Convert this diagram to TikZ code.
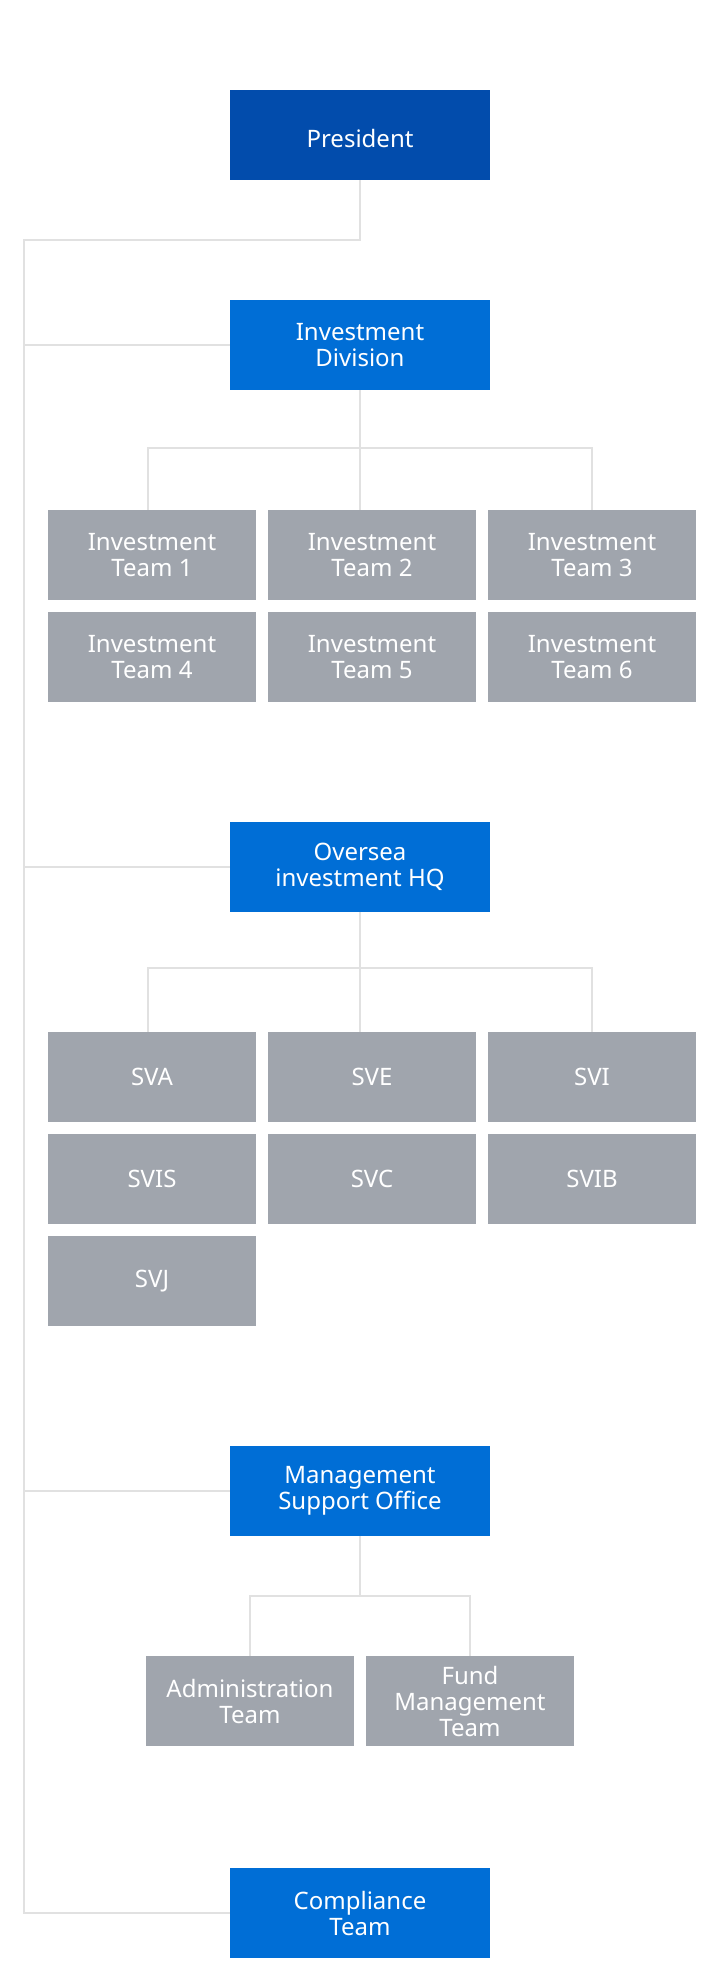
\documentclass[tikz,border=0pt]{standalone}
\usepackage{fontspec}
\setmainfont{Noto Sans}
\usetikzlibrary{positioning}

\definecolor{presblue}{HTML}{024CAC}
\definecolor{unitblue}{HTML}{006ED6}
\definecolor{teamgray}{HTML}{A0A5AD}
\definecolor{linegray}{HTML}{E1E1E1}

\begin{document}
\begin{tikzpicture}[x=1pt, y=-1pt,
  box/.style={minimum width=260pt, minimum height=90pt, inner sep=0pt, text=white, align=center, font=\fontsize{24}{26}\selectfont},
  head/.style={box, fill=unitblue},
  team/.style={box, fill=teamgray, minimum width=208pt},
  link/.style={draw=linegray, line width=2pt}]

\useasboundingbox[fill=white] (0,0) rectangle (720,1980);

\coordinate (spine) at (24,240);

% heads
\node[head, fill=presblue, text height=25pt, text depth=0pt] (pres) at (360,135) {President};
\node[head] (invdiv) at (360,345) {Investment\\Division};
\node[head] (hq) at (360,867) {Oversea\\investment HQ};
\node[head] (mso) at (360,1491) {Management\\Support Office};
\node[head] (comp) at (360,1913) {Compliance\\Team};

% investment teams
\foreach \n/\x/\y in {1/152/555, 2/372/555, 3/592/555, 4/152/657, 5/372/657, 6/592/657}
  \node[team] (it\n) at (\x,\y) {Investment\\Team \n};

% overseas offices
\foreach \nm/\x/\y/\lbl in {sva/152/1077/SVA, sve/372/1077/SVE, svi/592/1077/SVI,
                            svis/152/1179/SVIS, svc/372/1179/SVC, svib/592/1179/SVIB,
                            svj/152/1281/SVJ}
  \node[team] (\nm) at (\x,\y) {\lbl};

% support teams
\node[team] (adm) at (250,1701) {Administration\\Team};
\node[team] (fund) at (470,1701) {Fund\\Management\\Team};

% spine
\draw[link] (pres.south) |- (spine) -- (spine |- comp) -- (comp.west);
\draw[link] (spine |- invdiv) -- (invdiv.west);
\draw[link] (spine |- hq) -- (hq.west);
\draw[link] (spine |- mso) -- (mso.west);

% buses
\draw[link] (invdiv.south) -- (invdiv.south |- it2.north);
\draw[link] ([xshift=-4pt]it1.north) -- ++(0,-62) -| (it3.north);

\draw[link] (hq.south) -- (hq.south |- sve.north);
\draw[link] ([xshift=-4pt]sva.north) -- ++(0,-64) -| (svi.north);

\draw[link] (mso.south) -- ++(0,60);
\draw[link] (adm.north) -- ++(0,-60) -| (fund.north);

\end{tikzpicture}
\end{document}
